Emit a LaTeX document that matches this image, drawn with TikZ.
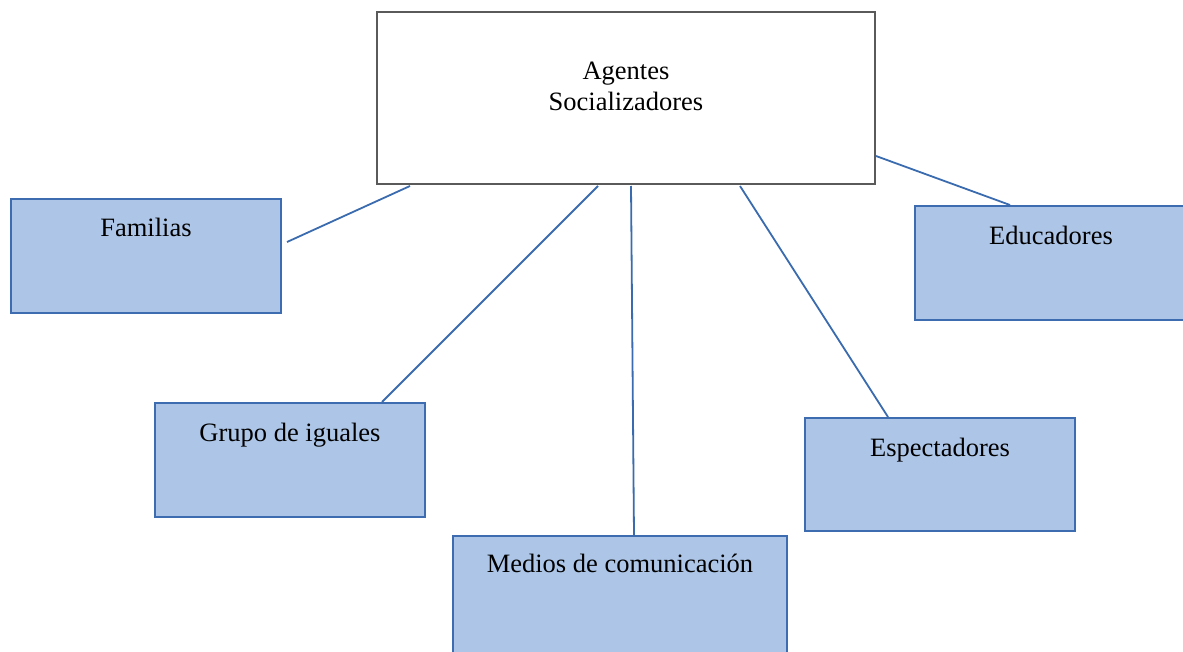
\documentclass[tikz,border=0pt]{standalone}
\usepackage{fontspec}
\setmainfont{Liberation Serif}
\usetikzlibrary{calc}
\definecolor{boxfill}{HTML}{ADC6E8}
\definecolor{boxline}{HTML}{3D6DB0}
\definecolor{conn}{HTML}{3A6BAF}
\definecolor{mainline}{HTML}{5A5A5A}
\begin{document}
\begin{tikzpicture}[x=1pt,y=-1pt,
  box/.style={draw=boxline,fill=boxfill,line width=2pt,anchor=north west,inner sep=0pt,outer sep=0pt},
  mainbox/.style={draw=mainline,fill=white,line width=1.5pt,anchor=north west,inner sep=0pt,outer sep=0pt},
  lbl/.style={anchor=north,inner sep=0pt,font=\fontsize{26.5}{30.5}\selectfont,align=center},
  conline/.style={draw=conn,line width=1.8pt}]
\useasboundingbox (0,0) rectangle (1183,652);
\clip (0,0) rectangle (1183,652);
\node[mainbox,minimum width=498pt,minimum height=172pt] (main) at (377,12) {};
\node[box,minimum width=270pt,minimum height=114pt] (fam) at (11,199) {};
\node[box,minimum width=270pt,minimum height=114pt] (grp) at (155,403) {};
\node[box,minimum width=334pt,minimum height=130pt] (med) at (453,536) {};
\node[box,minimum width=270pt,minimum height=113pt] (esp) at (805,418) {};
\node[box,minimum width=272pt,minimum height=114pt] (edu) at (915,206) {};
\node[lbl] (tmain) at ($(main.north)+(0,50)$) {Agentes\\Socializadores};
\node[lbl] (tfam) at ($(fam.north)+(0,19)$) {Familias};
\node[lbl] (tgrp) at ($(grp.north)+(0,20)$) {Grupo de iguales};
\node[lbl] (tmed) at ($(med.north)+(0,18)$) {Medios de comunicación};
\node[lbl] (tesp) at ($(esp.north)+(0,20)$) {Espectadores};
\node[lbl] (tedu) at ($(edu.north)+(0,20)$) {Educadores};
\draw[conline] ($(main.south west)+(33,2)$) -- ($(fam.north east)+(6,43)$);
\draw[conline] ($(main.south west)+(221,2)$) -- ($(grp.north east)+(-43,-1)$);
\draw[conline] ($(main.south west)+(254,2)$) -- ($(med.north west)+(181,-1)$);
\draw[conline] ($(main.south west)+(363,2)$) -- ($(esp.north west)+(83,-1)$);
\draw[conline] ($(main.north east)+(1,144)$) -- ($(edu.north west)+(95,-1)$);
\end{tikzpicture}
\end{document}
